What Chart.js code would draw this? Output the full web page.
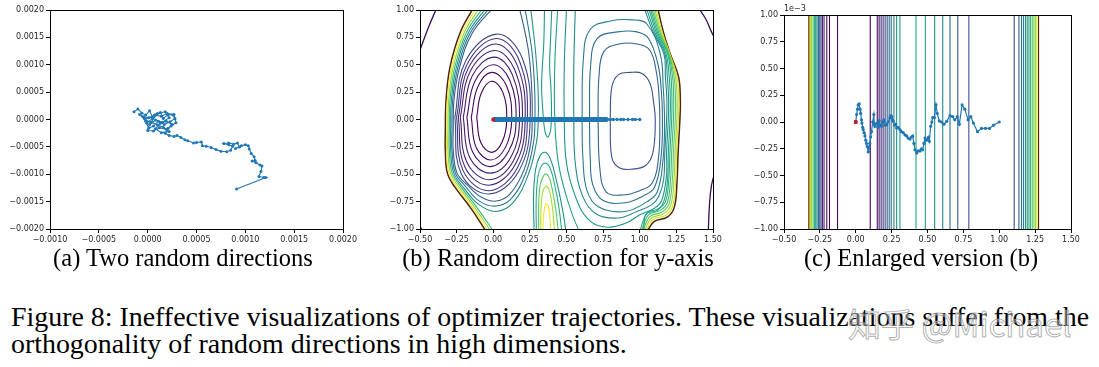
<!DOCTYPE html>
<html>
<head>
<meta charset="utf-8">
<script src="https://cdn.jsdelivr.net/npm/chart.js@4.4.0/dist/chart.umd.min.js"></script>
<style>
  body { margin: 0; background: #fff; width: 1099px; height: 367px; position: relative; overflow: hidden; }
  canvas { position: absolute; top: 0; }
  .cap { position: absolute; font-family: "Liberation Serif", serif; color: #000; white-space: nowrap; }
  .sub { font-size: 24.5px; top: 244px; text-align: center; }
  .fig { font-size: 27.9px; left: 11px; }
  .off { position: absolute; font-family: "DejaVu Sans"; font-size: 8px; color: #262626; }
  .wm { position: absolute; left: 848px; top: 299px; font-family: "Noto Sans CJK SC"; font-size: 33px;
        color: rgba(255,255,255,0.35); -webkit-text-stroke: 1px rgba(150,150,150,0.75); white-space: nowrap; }
</style>
</head>
<body>
<canvas id="ca" width="363" height="249" style="left:0px"></canvas>
<canvas id="cb" width="363" height="249" style="left:370px"></canvas>
<canvas id="cc" width="351" height="249" style="left:740px"></canvas>
<div class="off" style="left:784px;top:4px">1e&minus;3</div>
<div class="cap sub" style="left:52px;width:262px">(a) Two random directions</div>
<div class="cap sub" style="left:400px;width:316px">(b) Random direction for y-axis</div>
<div class="cap sub" style="left:802px;width:238px">(c) Enlarged version (b)</div>
<div class="cap fig" style="top:301px">Figure 8: Ineffective visualizations of optimizer trajectories. These visualizations suffer from the</div>
<div class="cap fig" style="top:328px">orthogonality of random directions in high dimensions.</div>
<div class="wm">知乎 @Michael</div>
<script>
const BLUE = '#1f77b4';
const START_RED = '#c0182a';

// ---- (a) two random directions, values in units of 1e-4 ----
const A_X = [-1.4,-1.0,-0.6,-0.2,0.2,0.5,-0.3,0.3,0.9,1.3,
  1.6,2.1,2.6,2.8,2.3,1.7,1.1,0.6,0.1,-0.1,
  0.5,1.0,1.8,2.2,1.5,0.8,0.2,0.0,0.6,1.2,
  1.9,2.4,2.9,2.7,2.0,1.4,0.7,0.1,-0.4,-0.8,
  -0.2,0.4,1.0,1.6,2.2,1.4,0.8,1.3,1.9,2.5,
  2.1,1.8,2.2,2.7,3.0,3.4,3.8,4.1,4.7,5.0,
  5.5,5.6,6.0,6.5,7.0,7.5,8.1,8.5,8.7,8.3,
  7.8,8.3,8.8,9.2,9.4,9.0,9.6,10.0,10.3,10.4,
  10.6,10.9,11.0,10.7,11.1,11.5,11.7,11.6,11.4,11.9,
  12.1,9.1];
const A_Y = [1.4,1.9,1.2,0.8,1.6,0.4,0.1,-0.6,0.9,1.3,
  0.2,0.9,0.8,0.2,-0.4,-0.9,-0.3,-1.2,-1.6,-0.7,
  0.2,1.1,1.4,0.3,-0.5,-0.1,-0.9,-2.0,-2.1,-1.5,
  -1.8,-1.2,-0.6,0.9,1.1,0.6,0.8,0.3,0.5,0.9,
  -0.3,-0.5,-1.0,-1.4,-2.2,-2.4,-1.7,-0.7,-0.3,-0.9,
  -1.6,-2.5,-2.9,-3.1,-2.9,-3.3,-3.7,-3.9,-4.3,-4.2,
  -4.1,-4.8,-4.9,-5.1,-5.5,-5.8,-5.9,-5.6,-4.9,-4.6,
  -4.4,-4.3,-4.5,-4.3,-5.0,-5.3,-4.8,-4.6,-4.8,-5.4,
  -6.2,-6.8,-7.5,-7.6,-7.9,-8.3,-8.5,-9.5,-10.4,-10.6,
  -10.6,-12.7];
const A_UNIT = 1e-4;
const A_XTICKS = [-0.001, 0.002, 0.0005];
const A_YTICKS = [-0.002, 0.002, 0.0005];

// ---- (b) random direction for y-axis ----
const B_PATH_THICK = [[0, 0], [0.78, 0]];
const B_PATH_TAIL_X = [0.78, 0.80, 0.82, 0.845, 0.87, 0.89, 0.92, 0.95, 0.97, 1.0];
const B_XTICKS = [-0.5, 1.5, 0.25];
const B_YTICKS = [-1, 1, 0.25];

// closed contours round the left minimum, inner to outer
const B_LEFT_RINGS = [
  [[-0.113,0.02],[-0.082,0.24],[-0.01,0.35],[0.065,0.25],[0.092,0],[0.062,-0.20],[-0.01,-0.30],[-0.085,-0.21],[-0.113,0.02]],
  [[-0.150,0.02],[-0.105,0.30],[-0.01,0.43],[0.09,0.31],[0.126,0],[0.085,-0.25],[-0.015,-0.37],[-0.115,-0.26],[-0.150,0.02]],
  [[-0.180,0.02],[-0.125,0.35],[0.0,0.50],[0.112,0.36],[0.156,0],[0.105,-0.29],[-0.02,-0.43],[-0.14,-0.30],[-0.180,0.02]],
  [[-0.205,0.02],[-0.143,0.40],[0.005,0.57],[0.13,0.41],[0.179,0],[0.122,-0.34],[-0.02,-0.49],[-0.16,-0.35],[-0.205,0.02]],
  [[-0.225,0.02],[-0.157,0.44],[0.01,0.63],[0.148,0.45],[0.199,0],[0.137,-0.38],[-0.025,-0.55],[-0.18,-0.39],[-0.225,0.02]],
  [[-0.238,0.02],[-0.17,0.47],[0.015,0.69],[0.165,0.49],[0.218,0],[0.15,-0.41],[-0.03,-0.60],[-0.195,-0.43],[-0.238,0.02]],
  [[-0.250,0.02],[-0.18,0.50],[0.02,0.74],[0.18,0.53],[0.233,0],[0.165,-0.44],[-0.03,-0.65],[-0.208,-0.46],[-0.250,0.02]],
  [[-0.262,0.02],[-0.19,0.53],[0.025,0.78],[0.198,0.56],[0.252,0],[0.175,-0.47],[-0.03,-0.68],[-0.22,-0.49],[-0.262,0.02]]
];
const B_LEFT_RING_COLORS = ['#440154','#45085b','#461163','#471a6b','#472374','#462c7b','#433a83','#3e4a89'];

// contours open at the top edge, wrapping the left minimum
const B_LEFT_WRAPS = [
  [[-0.002,1.02],[-0.143,0.79],[-0.229,0.48],[-0.268,0.18],[-0.273,-0.1],[-0.273,-0.28],[-0.247,-0.49],[-0.176,-0.60],[-0.08,-0.71],[0.02,-0.745],[0.115,-0.68],[0.21,-0.46],[0.258,-0.2],[0.266,0.05],[0.262,0.3],[0.243,0.6],[0.208,0.85],[0.178,1.02]],
  [[-0.025,1.02],[-0.157,0.79],[-0.24,0.48],[-0.277,0.18],[-0.282,-0.1],[-0.282,-0.28],[-0.258,-0.49],[-0.19,-0.61],[-0.09,-0.75],[0.02,-0.79],[0.125,-0.72],[0.225,-0.48],[0.276,-0.2],[0.285,0.05],[0.282,0.3],[0.266,0.6],[0.238,0.85],[0.215,1.02]],
  [[-0.048,1.02],[-0.171,0.79],[-0.251,0.48],[-0.286,0.18],[-0.291,-0.1],[-0.291,-0.28],[-0.269,-0.49],[-0.204,-0.62],[-0.095,-0.78],[0.02,-0.84],[0.135,-0.76],[0.24,-0.5],[0.296,-0.2],[0.308,0.05],[0.305,0.3],[0.29,0.6],[0.27,0.85],[0.255,1.02]]
];
const B_LEFT_WRAP_COLORS = ['#355f8d','#2a788e','#21918c'];

// dense band along the left rim, last one is the rim itself
const B_LEFT_BANDS = [
  [[-0.071,1.02],[-0.185,0.79],[-0.262,0.48],[-0.295,0.18],[-0.300,-0.1],[-0.300,-0.28],[-0.280,-0.49],[-0.218,-0.62],[-0.113,-0.8],[0.001,-1.02]],
  [[-0.094,1.02],[-0.199,0.79],[-0.273,0.48],[-0.304,0.18],[-0.309,-0.1],[-0.309,-0.28],[-0.291,-0.49],[-0.232,-0.62],[-0.128,-0.8],[-0.017,-1.02]],
  [[-0.116,1.02],[-0.213,0.79],[-0.284,0.48],[-0.313,0.18],[-0.318,-0.1],[-0.318,-0.28],[-0.302,-0.49],[-0.246,-0.62],[-0.143,-0.8],[-0.034,-1.02]],
  [[-0.136,1.02],[-0.227,0.79],[-0.295,0.48],[-0.322,0.18],[-0.327,-0.1],[-0.327,-0.28],[-0.313,-0.49],[-0.26,-0.62],[-0.158,-0.8],[-0.049,-1.02]]
];
const B_LEFT_BAND_COLORS = ['#3bbb75','#95d840','#fde725','#4b2511'];

// closed contours round the right minimum, inner to outer
const B_RIGHT_RINGS = [
  [[0.798,0],[0.81,0.3],[0.855,0.41],[0.935,0.43],[1.015,0.42],[1.07,0.33],[1.095,0.15],[1.106,0],[1.09,-0.3],[1.04,-0.42],[0.94,-0.455],[0.86,-0.44],[0.81,-0.35],[0.798,0]],
  [[0.715,0],[0.722,0.4],[0.755,0.62],[0.86,0.69],[0.98,0.69],[1.07,0.63],[1.115,0.42],[1.132,0.2],[1.137,0],[1.128,-0.35],[1.085,-0.58],[1.0,-0.65],[0.88,-0.69],[0.77,-0.66],[0.728,-0.45],[0.715,0]],
  [[0.657,0],[0.665,0.5],[0.71,0.74],[0.85,0.8],[0.98,0.8],[1.06,0.74],[1.125,0.5],[1.148,0.25],[1.155,0],[1.145,-0.35],[1.1,-0.62],[1.02,-0.7],[0.9,-0.76],[0.75,-0.74],[0.68,-0.6],[0.662,-0.35],[0.657,0]],
  [[0.606,0],[0.615,0.55],[0.66,0.82],[0.8,0.9],[0.95,0.91],[1.05,0.87],[1.14,0.6],[1.16,0.3],[1.169,0],[1.16,-0.35],[1.12,-0.66],[1.05,-0.75],[0.9,-0.84],[0.72,-0.8],[0.64,-0.65],[0.612,-0.35],[0.606,0]]
];
const B_RIGHT_RING_COLORS = ['#3b528b','#33638d','#2d708e','#287d8e'];

// contours wrapping the right minimum, open at the top
const B_RIGHT_WRAPS = [
  [[0.56,1.02],[0.55,0.5],[0.55,0],[0.56,-0.4],[0.61,-0.7],[0.7,-0.86],[0.85,-0.9],[0.98,-0.84],[1.08,-0.78],[1.13,-0.7],[1.163,-0.55],[1.171,-0.3],[1.183,0],[1.185,0.18],[1.175,0.39],[1.165,0.6],[1.094,0.79],[1.03,1.02]],
  [[0.50,1.02],[0.485,0.5],[0.485,0],[0.50,-0.4],[0.56,-0.7],[0.64,-0.9],[0.75,-0.98],[0.9,-0.95],[1.0,-0.87],[1.1,-0.81],[1.15,-0.74],[1.183,-0.5],[1.183,-0.3],[1.195,0],[1.197,0.18],[1.188,0.39],[1.172,0.6],[1.104,0.79],[1.045,1.02]],
  [[0.44,1.02],[0.42,0.5],[0.42,0],[0.445,-0.4],[0.51,-0.75],[0.58,-1.0],[0.65,-1.15],[1.0,-1.15],[1.04,-0.87],[1.12,-0.83],[1.164,-0.75],[1.19,-0.55],[1.195,-0.3],[1.207,0],[1.209,0.18],[1.201,0.39],[1.18,0.6],[1.114,0.79],[1.06,1.02]]
];
const B_RIGHT_WRAP_COLORS = ['#238a8d','#1f968b','#20a386'];

// dense band along the right rim, last one is the rim itself
const B_RIGHT_BANDS = [
  [[1.07,1.02],[1.123,0.79],[1.19,0.6],[1.213,0.39],[1.22,0.18],[1.218,0],[1.206,-0.3],[1.198,-0.55],[1.176,-0.75],[1.128,-0.815],[1.05,-0.855],[1.0,-1.02]],
  [[1.08,1.02],[1.131,0.79],[1.195,0.6],[1.224,0.39],[1.232,0.18],[1.230,0],[1.218,-0.3],[1.21,-0.55],[1.188,-0.76],[1.14,-0.83],[1.06,-0.87],[1.01,-1.02]],
  [[1.09,1.02],[1.139,0.79],[1.2,0.6],[1.234,0.39],[1.244,0.18],[1.242,0],[1.23,-0.3],[1.222,-0.56],[1.2,-0.77],[1.152,-0.845],[1.07,-0.885],[1.02,-1.02]],
  [[1.10,1.02],[1.147,0.79],[1.203,0.6],[1.244,0.39],[1.255,0.18],[1.253,0],[1.241,-0.3],[1.233,-0.57],[1.212,-0.78],[1.165,-0.86],[1.08,-0.9],[1.03,-1.02]],
  [[1.11,1.02],[1.155,0.79],[1.206,0.6],[1.254,0.39],[1.266,0.18],[1.263,0],[1.251,-0.3],[1.244,-0.58],[1.224,-0.79],[1.178,-0.875],[1.09,-0.915],[1.04,-1.02]],
  [[1.122,1.02],[1.163,0.79],[1.208,0.6],[1.265,0.39],[1.277,0.18],[1.274,0],[1.262,-0.3],[1.254,-0.58],[1.236,-0.8],[1.19,-0.89],[1.1,-0.93],[1.05,-1.02]]
];
const B_RIGHT_BAND_COLORS = ['#29af7f','#3fbc73','#5ec962','#95d840','#dde318','#4b2511'];

// high ridge rising from the bottom edge between the minima, outer to inner
const B_RIDGE = [
  [[0.28,-1.05],[0.275,-0.7],[0.29,-0.45],[0.32,-0.33],[0.355,-0.3],[0.39,-0.36],[0.43,-0.55],[0.47,-0.8],[0.5,-1.05]],
  [[0.295,-1.05],[0.293,-0.75],[0.305,-0.52],[0.33,-0.42],[0.36,-0.40],[0.39,-0.45],[0.42,-0.6],[0.45,-0.82],[0.47,-1.05]],
  [[0.31,-1.05],[0.31,-0.8],[0.32,-0.6],[0.345,-0.51],[0.365,-0.50],[0.385,-0.54],[0.405,-0.65],[0.43,-0.85],[0.445,-1.05]],
  [[0.325,-1.05],[0.325,-0.85],[0.335,-0.68],[0.36,-0.61],[0.38,-0.64],[0.395,-0.72],[0.41,-0.88],[0.42,-1.05]],
  [[0.34,-1.05],[0.343,-0.88],[0.36,-0.77],[0.375,-0.79],[0.385,-0.88],[0.395,-1.05]]
];
const B_RIDGE_COLORS = ['#21918c','#27ad81','#5ec962','#addc30','#fde725'];

const B_SADDLE = [[0.35,1.02],[0.345,0.7],[0.335,0.48],[0.33,0.3],[0.34,0.05],[0.355,-0.12],[0.375,-0.16],[0.395,-0.05],[0.395,0.25],[0.385,0.48],[0.39,0.7],[0.40,1.02]];
const B_SADDLE_COLOR = '#1f9a8a';

// far "100.000" contours in the corners
const B_CORNERS = [
  [[-0.385,1.02],[-0.44,0.85],[-0.49,0.67],[-0.52,0.55]],
  [[1.40,1.02],[1.45,0.92],[1.49,0.8],[1.52,0.72]],
  [[1.52,-0.45],[1.49,-0.6],[1.475,-0.8],[1.468,-1.02]],
  [[-0.52,-0.93],[-0.48,-1.02]]
];
const B_CORNER_COLOR = '#3b0f55';

// ---- (c) enlarged version of (b), y in units of 1e-3 ----
const C_X = [0,0.006,0.012,0.017,0.024,0.03,0.034,0.04,0.043,0.048,
  0.052,0.058,0.064,0.07,0.075,0.08,0.087,0.092,0.098,0.104,
  0.11,0.118,0.126,0.13,0.133,0.14,0.149,0.155,0.163,0.17,
  0.18,0.188,0.196,0.205,0.215,0.225,0.238,0.245,0.25,0.255,
  0.261,0.27,0.278,0.285,0.295,0.308,0.318,0.331,0.343,0.355,
  0.365,0.378,0.388,0.397,0.405,0.413,0.425,0.435,0.448,0.458,
  0.466,0.475,0.483,0.49,0.499,0.507,0.513,0.522,0.53,0.536,
  0.548,0.559,0.568,0.582,0.597,0.615,0.634,0.657,0.676,0.69,
  0.708,0.722,0.741,0.76,0.783,0.802,0.82,0.848,0.876,0.904,
  0.932,0.96,1.0];
const C_Y = [0,0.07,0.12,0.16,0.17,0.12,0.08,0.02,-0.01,-0.05,
  -0.07,-0.1,-0.13,-0.17,-0.2,-0.23,-0.28,-0.24,-0.2,-0.14,
  -0.09,0.0,0.07,-0.02,-0.04,-0.02,-0.01,-0.05,0.01,-0.03,
  -0.04,0.0,0.02,-0.03,-0.025,0.0,0.04,0.06,0.05,0.02,
  0.006,-0.03,-0.02,-0.056,-0.05,-0.07,-0.09,-0.1,-0.12,-0.13,
  -0.15,-0.16,-0.14,-0.13,-0.2,-0.26,-0.29,-0.27,-0.27,-0.25,
  -0.26,-0.2,-0.15,-0.17,-0.165,-0.14,-0.18,-0.04,0.0,0.04,
  0.04,0.16,0.08,0.01,0.0,-0.02,0.006,0.06,0.05,0.02,
  0.05,-0.02,0.16,0.12,0.02,0.05,-0.01,-0.09,-0.06,-0.06,
  -0.06,-0.03,0.0];
const C_LINE_X = [-0.327,-0.322,-0.316,-0.307,-0.297,-0.288,-0.279,-0.270,-0.260,-0.251,-0.242,-0.232,-0.221,-0.202,-0.183,-0.127,
  0.101,0.150,0.163,0.177,0.191,0.205,0.219,0.233,0.247,0.266,0.285,0.308,
  0.420,0.485,0.550,0.606,0.657,0.711,0.788,
  1.104,1.137,1.155,1.169,1.183,1.195,1.207,1.218,1.230,1.242,1.253,1.263,1.274];
const C_LINE_COLOR = ['#4b2511','#fde725','#c2df23','#86d549','#52c569','#2ab07f','#1e9b8a','#25858e','#2d708e','#38588c','#424086','#482878','#481a6c','#471063','#46085c','#440154',
  '#440154','#471063','#481a6c','#482878','#443983','#3e4989','#38588c','#31688e','#2b748e','#26828e','#21918c','#1f9e89',
  '#22a884','#1f9e89','#21918c','#26828e','#2d708e','#355f8d','#3b528b',
  '#3b528b','#355f8d','#2d708e','#26828e','#21918c','#1f9e89','#22a884','#35b779','#52c569','#6ece58','#a0da39','#dde318','#4b2511'];
const C_XTICKS = [-0.5, 1.5, 0.25];
const C_YTICKS = [-1, 1, 0.25];

// ---- helpers ----
function xy(list) { return list.map(p => ({ x: p[0], y: p[1] })); }

function curve(list, color, width) {
  return { data: xy(list), showLine: true, borderColor: color, borderWidth: width || 1.1,
    pointRadius: 0, tension: 0.4, fill: false };
}

function path(xs, ys, color, r, w) {
  return { data: xs.map((x, i) => ({ x, y: ys[i] })), showLine: true, borderColor: color,
    backgroundColor: color, pointBackgroundColor: color, pointBorderWidth: 0,
    borderWidth: w, pointRadius: r, tension: 0 };
}

function startMark(x, y) {
  return { data: [{ x, y }], showLine: false, pointStyle: 'rect', pointRadius: 2.6,
    pointBackgroundColor: START_RED, pointBorderColor: START_RED, pointBorderWidth: 0 };
}

const frame = {
  id: 'frame',
  afterDraw(c) {
    const a = c.chartArea, g = c.ctx;
    g.save();
    g.strokeStyle = '#000';
    g.lineWidth = 1;
    g.strokeRect(Math.round(a.left) + 0.5, Math.round(a.top) + 0.5,
      Math.round(a.right - a.left), Math.round(a.bottom - a.top));
    g.restore();
  }
};

function axis(r, dec, fit) {
  return {
    type: 'linear', min: r[0], max: r[1],
    ticks: {
      stepSize: r[2], autoSkip: false, maxRotation: 0, padding: 2, color: '#262626',
      font: { family: 'DejaVu Sans', size: 8 },
      callback: v => (Math.abs(v) < 1e-12 ? 0 : v).toFixed(dec).replace('-', '\u2212')
    },
    grid: { drawOnChartArea: false, drawTicks: true, tickLength: 4, tickColor: '#000' },
    border: { color: '#000', width: 1 },
    afterFit: fit
  };
}

function makeChart(id, datasets, xr, yr, dec, yw, top) {
  return new Chart(document.getElementById(id), {
    type: 'scatter',
    data: { datasets },
    options: {
      responsive: false, animation: false, events: [],
      layout: { padding: { top, right: 20, left: 0, bottom: 0 } },
      elements: { line: { capBezierPoints: false } },
      plugins: { legend: { display: false }, tooltip: { enabled: false } },
      scales: {
        x: axis(xr, dec, s => { s.height = 20; }),
        y: axis(yr, dec, s => { s.width = yw; })
      }
    },
    plugins: [frame]
  });
}

// ---- (a) ----
makeChart('ca', [
  path(A_X.map(v => v * A_UNIT), A_Y.map(v => v * A_UNIT), BLUE, 1.5, 1.1)
], A_XTICKS, A_YTICKS, 4, 50, 10);

// ---- (b) ----
const bSets = [
  startMark(0, 0),
  { ...curve(B_PATH_THICK, BLUE, 5), tension: 0 },
  path(B_PATH_TAIL_X, B_PATH_TAIL_X.map(() => 0), BLUE, 1.7, 1.2)
];
B_LEFT_RINGS.forEach((c, i) => bSets.push(curve(c, B_LEFT_RING_COLORS[i])));
B_LEFT_WRAPS.forEach((c, i) => bSets.push(curve(c, B_LEFT_WRAP_COLORS[i])));
B_LEFT_BANDS.forEach((c, i) => bSets.push(curve(c, B_LEFT_BAND_COLORS[i], i === 3 ? 1.5 : 1.1)));
B_RIGHT_RINGS.forEach((c, i) => bSets.push(curve(c, B_RIGHT_RING_COLORS[i])));
B_RIGHT_WRAPS.forEach((c, i) => bSets.push(curve(c, B_RIGHT_WRAP_COLORS[i])));
B_RIGHT_BANDS.forEach((c, i) => bSets.push(curve(c, B_RIGHT_BAND_COLORS[i], i === 5 ? 1.5 : 1.1)));
B_RIDGE.forEach((c, i) => bSets.push(curve(c, B_RIDGE_COLORS[i])));
bSets.push(curve(B_SADDLE, B_SADDLE_COLOR));
B_CORNERS.forEach(c => bSets.push(curve(c, B_CORNER_COLOR, 1.3)));
makeChart('cb', bSets, B_XTICKS, B_YTICKS, 2, 50, 10);

// ---- (c) ----
const cSets = [
  startMark(0, 0),
  path(C_X, C_Y, BLUE, 1.6, 1.2)
];
C_LINE_X.forEach((x, i) => cSets.push({ ...curve([[x, -1.05], [x, 1.05]], C_LINE_COLOR[i], 1.1), tension: 0 }));
makeChart('cc', cSets, C_XTICKS, C_YTICKS, 2, 44, 15);
</script>
</body>
</html>
